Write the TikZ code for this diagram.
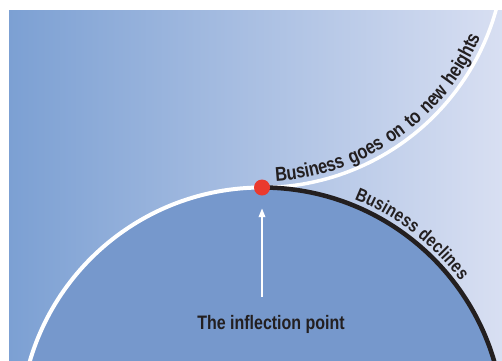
\documentclass[tikz,border=0pt]{standalone}
\usepackage{fontspec}
\usetikzlibrary{arrows.meta,decorations.text}
\newfontfamily\narrowbold{Liberation Sans}[FakeStretch=0.82]
\definecolor{bgleft}{RGB}{124,160,211}
\definecolor{bgright}{RGB}{216,223,242}
\definecolor{domefill}{RGB}{118,152,204}
\definecolor{inkdark}{RGB}{35,31,32}
\definecolor{dotred}{RGB}{234,58,46}
\begin{document}
\begin{tikzpicture}[x=1pt,y=1pt,
  whiteline/.style={white, line width=4pt},
  blackline/.style={inkdark, line width=4.5pt},
  pointer/.style={white, line width=2pt, -{Triangle[width=6.5pt,length=9pt]}},
  dotstyle/.style={circle, fill=dotred, minimum size=16pt, inner sep=0pt},
  caption/.style={font=\narrowbold\bfseries\fontsize{19.5pt}{22pt}\selectfont, text=inkdark, inner sep=0pt}]
  % page and frame
  \fill[white] (0,0) rectangle (502,360);
  \useasboundingbox (0,0) rectangle (502,360);
  \shade[left color=bgleft, right color=bgright] (9,0) rectangle (502,350);
  \begin{scope}
    \clip (9,0) rectangle (502,350);
    % the dome (business as it was)
    \fill[domefill] (262,-69.5) circle[radius=242pt];
    % rising branch
    \draw[whiteline, line width=3.5pt] (262,172.5) arc[start angle=270, end angle=352, radius=243pt];
    % left flank of the dome
    \draw[whiteline] (262,172.5) arc[start angle=90, end angle=172, radius=242pt];
    % declining branch
    \draw[blackline] (262,172.5) arc[start angle=90, end angle=8, radius=242pt];
  \end{scope}
  % curved labels
  \path[decorate, decoration={text along path, raise=6pt,
      text align=fit to path stretching spaces,
      text={|\narrowbold\bfseries\fontsize{20pt}{22pt}\selectfont\color{inkdark}|Business goes on to new heights}}]
    (262,415.5) ++(273.4:243pt) arc[start angle=273.4, end angle=337, radius=243pt];
  \path[decorate, decoration={text along path, raise=6pt,
      text align=left,
      text={|\narrowbold\bfseries\fontsize{18.5pt}{20pt}\selectfont\color{inkdark}|Business declines}}]
    (262,-69.5) ++(68.2:242pt) arc[start angle=68.2, end angle=15, radius=242pt];
  % inflection point and pointer
  \node[dotstyle] (infl) at (262,172.5) {};
  \coordinate (arrowfoot) at (262,63);
  \draw[pointer, shorten >=12.5pt] (arrowfoot) -- (infl.south);
  \node[caption, anchor=base] (lbl) at (271,31) {The inflection point};
\end{tikzpicture}
\end{document}
